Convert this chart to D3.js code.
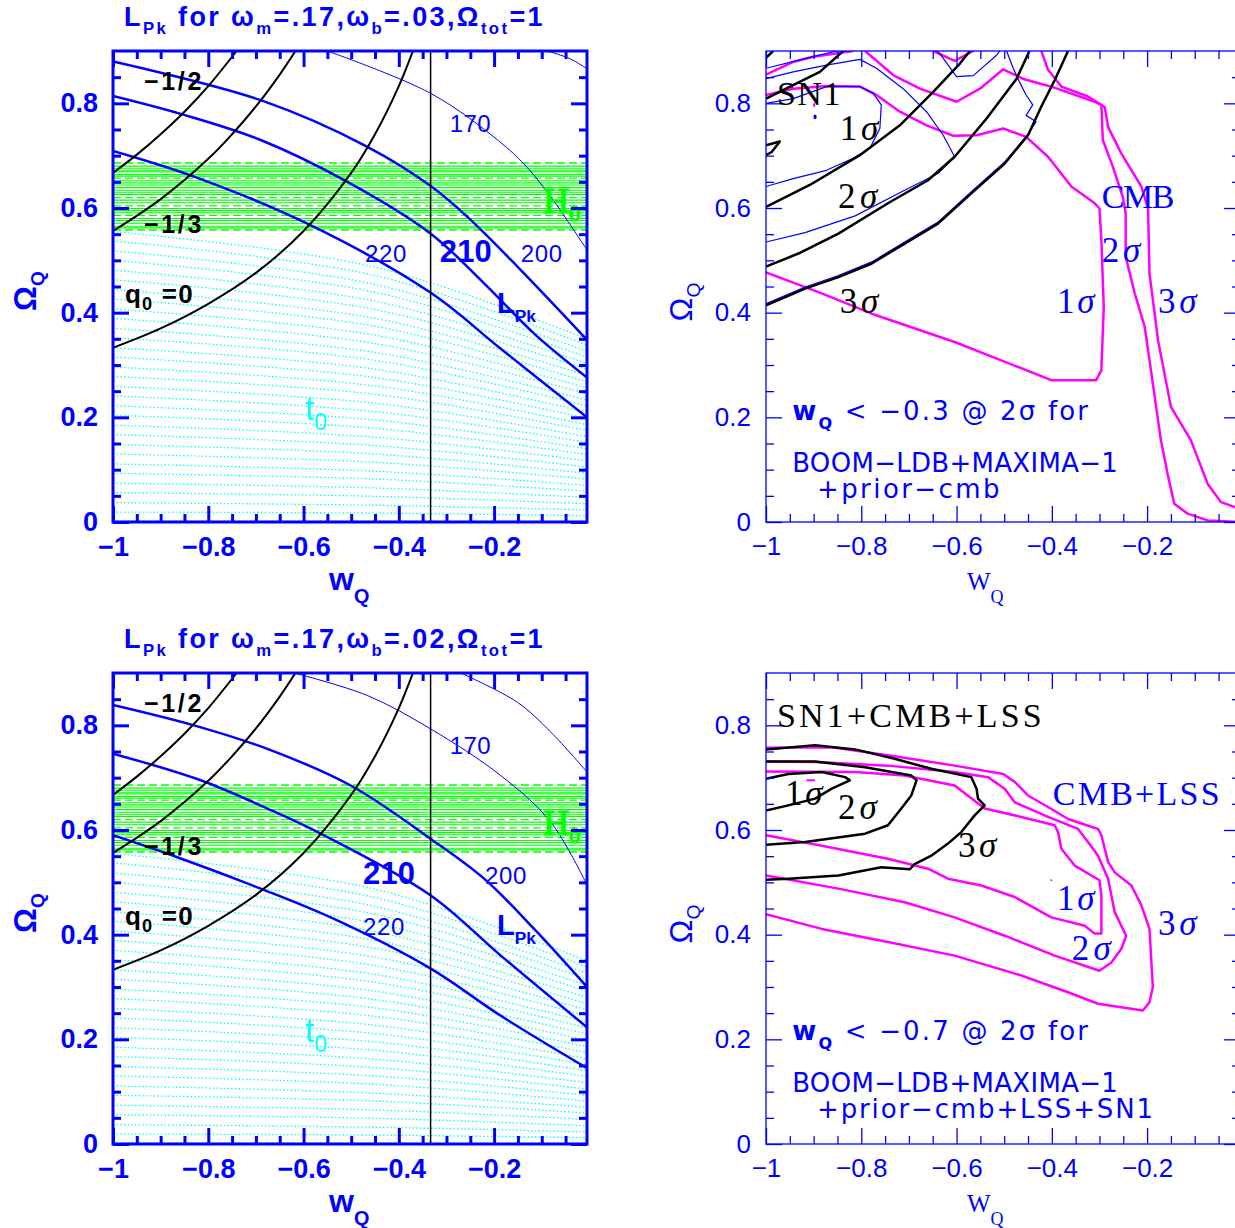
<!DOCTYPE html>
<html>
<head>
<meta charset="utf-8">
<script src="https://cdn.jsdelivr.net/npm/d3@7"></script>
<style>
  body { margin: 0; background: #fff; }
  svg { display: block; }
</style>
</head>
<body>
<svg id="fig" width="1235" height="1228"></svg>
<script>
// ---------- axes ----------
const wTicks = [-1, -0.8, -0.6, -0.4, -0.2];
const wMinor = [-0.95, -0.9, -0.85, -0.75, -0.7, -0.65, -0.55, -0.5, -0.45, -0.35, -0.3, -0.25, -0.15, -0.1, -0.05];
const omegaTicks = [0, 0.2, 0.4, 0.6, 0.8];
const omegaMinor = [0.05, 0.1, 0.15, 0.25, 0.3, 0.35, 0.45, 0.5, 0.55, 0.65, 0.7, 0.75, 0.85];

// ---------- left panels: q0 lines, H0 band, t0 hatch ----------
const q0Half = [[-1, 0.667], [-0.95, 0.702], [-0.9, 0.741], [-0.85, 0.784], [-0.8, 0.833], [-0.75, 0.889], [-0.74, 0.901]];
const q0Third = [[-1, 0.556], [-0.9, 0.617], [-0.8, 0.694], [-0.75, 0.741], [-0.7, 0.794], [-0.65, 0.855], [-0.617, 0.9]];
const q0Zero = [[-1, 0.333], [-0.9, 0.370], [-0.8, 0.417], [-0.7, 0.476], [-0.6, 0.556], [-0.5, 0.667], [-0.45, 0.741], [-0.4, 0.833], [-0.37, 0.901]];
const wVertical = -1 / 3;

const h0Solid = [0.680, 0.676, 0.672, 0.669, 0.664, 0.661, 0.652, 0.648, 0.644, 0.639, 0.634, 0.630, 0.626,
                 0.615, 0.610, 0.599, 0.595, 0.591, 0.580, 0.576, 0.571, 0.565, 0.562];
const h0Dashed = [0.686, 0.657, 0.620, 0.604, 0.586, 0.558];

const t0W = [-1, -0.45, -0.005];
const t0Left = [0.555, 0.537, 0.518, 0.500, 0.481, 0.463, 0.444, 0.426, 0.407, 0.389, 0.370, 0.352, 0.333, 0.315, 0.296, 0.278,
                0.259, 0.241, 0.222, 0.204, 0.185, 0.167, 0.148, 0.130, 0.111, 0.093, 0.074, 0.056, 0.037, 0.019, 0.002];
const t0Mid = [0.487, 0.471, 0.454, 0.439, 0.422, 0.406, 0.389, 0.374, 0.357, 0.341, 0.324, 0.309, 0.292, 0.276, 0.260, 0.244,
               0.227, 0.211, 0.195, 0.179, 0.162, 0.146, 0.130, 0.114, 0.097, 0.082, 0.065, 0.049, 0.032, 0.017, 0.002];
const t0Right = [0.350, 0.338, 0.326, 0.315, 0.303, 0.292, 0.280, 0.268, 0.256, 0.245, 0.233, 0.222, 0.210, 0.198, 0.186, 0.175,
                 0.163, 0.152, 0.140, 0.129, 0.117, 0.105, 0.093, 0.082, 0.070, 0.059, 0.047, 0.035, 0.023, 0.012, 0.001];

// L_Pk contours, omega_b = .03
const lpkB03 = {
  thin2: [[-0.088, 0.9], [-0.04, 0.885], [-0.005, 0.866]],
  l170: [[-0.55, 0.9], [-0.333, 0.819], [-0.19, 0.728], [-0.132, 0.679], [-0.076, 0.615], [-0.019, 0.539], [-0.005, 0.52]],
  l200: [[-1, 0.880], [-0.69, 0.806], [-0.466, 0.717], [-0.333, 0.642], [-0.256, 0.583], [-0.151, 0.488], [-0.005, 0.348]],
  l210: [[-1, 0.814], [-0.851, 0.778], [-0.69, 0.730], [-0.508, 0.650], [-0.333, 0.551], [-0.221, 0.456], [-0.116, 0.360], [-0.005, 0.276]],
  l220: [[-1, 0.709], [-0.83, 0.660], [-0.592, 0.570], [-0.333, 0.438], [-0.186, 0.331], [-0.005, 0.200]]
};
// L_Pk contours, omega_b = .02
const lpkB02 = {
  thin2: [[-0.27, 0.9], [-0.151, 0.844], [-0.081, 0.787], [-0.005, 0.711]],
  l170: [[-0.62, 0.9], [-0.466, 0.857], [-0.333, 0.793], [-0.186, 0.704], [-0.081, 0.615], [-0.005, 0.495]],
  l200: [[-1, 0.839], [-0.83, 0.800], [-0.676, 0.755], [-0.501, 0.685], [-0.333, 0.583], [-0.221, 0.507], [-0.116, 0.411], [-0.005, 0.300]],
  l210: [[-1, 0.746], [-0.816, 0.695], [-0.676, 0.641], [-0.564, 0.593], [-0.333, 0.475], [-0.186, 0.360], [-0.005, 0.223]],
  l220: [[-1, 0.590], [-0.865, 0.548], [-0.69, 0.488], [-0.536, 0.430], [-0.333, 0.335], [-0.186, 0.245], [-0.005, 0.145]]
};

// ---------- top right: SN1 (black, blue) and CMB (magenta) ----------
const sn1Black = [
  [[-1, 0.887], [-0.985, 0.9]],
  [[-1, 0.809], [-0.943, 0.835], [-0.887, 0.860], [-0.838, 0.9]],
  [[-1, 0.720], [-0.971, 0.727], [-0.988, 0.707], [-1, 0.701]],
  [[-1, 0.602], [-0.908, 0.644], [-0.803, 0.701], [-0.719, 0.758], [-0.649, 0.822], [-0.593, 0.876], [-0.572, 0.9]],
  [[-1, 0.488], [-0.932, 0.513], [-0.848, 0.551], [-0.744, 0.609], [-0.660, 0.653], [-0.604, 0.698], [-0.537, 0.771], [-0.474, 0.847], [-0.447, 0.9]],
  [[-1, 0.414], [-0.918, 0.446], [-0.848, 0.468], [-0.778, 0.494], [-0.709, 0.532], [-0.639, 0.570], [-0.569, 0.628],
   [-0.499, 0.685], [-0.450, 0.739], [-0.422, 0.794], [-0.394, 0.844], [-0.366, 0.9]]
];
const sn1Blue = [
  [[-1, 0.867], [-0.929, 0.883], [-0.852, 0.9]],
  [[-1, 0.800], [-0.943, 0.809], [-0.873, 0.832], [-0.803, 0.832], [-0.775, 0.819], [-0.758, 0.797], [-0.761, 0.752],
   [-0.782, 0.714], [-0.817, 0.695], [-0.873, 0.672], [-0.943, 0.656], [-1, 0.641]],
  [[-1, 0.847], [-0.943, 0.860], [-0.873, 0.873], [-0.803, 0.884], [-0.768, 0.867], [-0.712, 0.828], [-0.663, 0.784],
   [-0.628, 0.739], [-0.604, 0.698], [-0.639, 0.666], [-0.709, 0.634], [-0.813, 0.585], [-0.918, 0.553], [-1, 0.535]],
  [[-0.642, 0.9], [-0.635, 0.895], [-0.600, 0.851], [-0.565, 0.853], [-0.516, 0.892], [-0.509, 0.9]],
  [[-0.495, 0.9], [-0.481, 0.867], [-0.468, 0.841], [-0.454, 0.816], [-0.440, 0.797], [-0.454, 0.777], [-0.433, 0.765],
   [-0.450, 0.741], [-0.499, 0.688], [-0.569, 0.631], [-0.639, 0.573], [-0.709, 0.535], [-0.778, 0.497], [-0.848, 0.471],
   [-0.918, 0.449], [-1, 0.417]]
];
const cmbMagenta = [
  [[-1, 0.816], [-0.943, 0.828], [-0.873, 0.833], [-0.803, 0.832], [-0.768, 0.816], [-0.719, 0.784], [-0.663, 0.758],
   [-0.607, 0.738], [-0.558, 0.739], [-0.502, 0.752], [-0.454, 0.736], [-0.408, 0.698], [-0.359, 0.641], [-0.310, 0.609],
   [-0.300, 0.599], [-0.296, 0.539], [-0.291, 0.411], [-0.296, 0.290], [-0.307, 0.271], [-0.401, 0.271], [-0.604, 0.344],
   [-0.778, 0.398], [-0.883, 0.437], [-1, 0.477]],
  [[-1, 0.855], [-0.943, 0.879], [-0.901, 0.889], [-0.817, 0.9]],
  [[-0.792, 0.9], [-0.733, 0.854], [-0.677, 0.828], [-0.600, 0.803], [-0.551, 0.828], [-0.502, 0.865], [-0.461, 0.847],
   [-0.426, 0.838], [-0.401, 0.832], [-0.310, 0.803], [-0.296, 0.797], [-0.293, 0.730], [-0.272, 0.679], [-0.251, 0.621],
   [-0.245, 0.590], [-0.245, 0.507], [-0.226, 0.437], [-0.205, 0.373], [-0.191, 0.284], [-0.171, 0.156], [-0.157, 0.092],
   [-0.143, 0.035], [-0.115, 0.016], [-0.073, 0.003], [-0.005, 0.0]],
  [[-0.649, 0.9], [-0.604, 0.881], [-0.565, 0.9]],
  [[-0.422, 0.9], [-0.408, 0.864], [-0.380, 0.832], [-0.324, 0.813], [-0.289, 0.793], [-0.282, 0.755], [-0.254, 0.704],
   [-0.212, 0.641], [-0.198, 0.599], [-0.195, 0.475], [-0.177, 0.347], [-0.150, 0.220], [-0.108, 0.156], [-0.073, 0.073],
   [-0.045, 0.038], [-0.017, 0.029], [-0.005, 0.025]]
];
const sn1BestFit = [-0.897, 0.774];
const cmbBestFit = [-0.899, 0.797];

// ---------- bottom right: SN1+CMB+LSS (black) and CMB+LSS (magenta) ----------
const allBlack = [
  [[-1, 0.698], [-0.953, 0.707], [-0.883, 0.711], [-0.834, 0.701], [-0.824, 0.695], [-0.862, 0.679], [-0.897, 0.660],
   [-0.953, 0.647], [-1, 0.637]],
  [[-1, 0.731], [-0.897, 0.731], [-0.792, 0.720], [-0.695, 0.704], [-0.684, 0.695], [-0.695, 0.666], [-0.716, 0.641],
   [-0.744, 0.609], [-0.792, 0.593], [-0.918, 0.577], [-1, 0.572]],
  [[-1, 0.754], [-0.897, 0.762], [-0.813, 0.754], [-0.730, 0.736], [-0.653, 0.717], [-0.569, 0.701], [-0.558, 0.679],
   [-0.555, 0.660], [-0.541, 0.647], [-0.562, 0.628], [-0.590, 0.596], [-0.618, 0.574], [-0.653, 0.551], [-0.688, 0.535],
   [-0.698, 0.525], [-0.758, 0.529], [-0.848, 0.513], [-0.953, 0.507], [-1, 0.505]]
];
const lssMagenta = [
  [[-1, 0.712], [-0.813, 0.711], [-0.709, 0.704], [-0.604, 0.685], [-0.541, 0.641], [-0.464, 0.625], [-0.394, 0.609],
   [-0.387, 0.596], [-0.380, 0.564], [-0.352, 0.532], [-0.300, 0.504], [-0.296, 0.475], [-0.296, 0.402], [-0.310, 0.402],
   [-0.331, 0.417], [-0.401, 0.433], [-0.478, 0.472], [-0.548, 0.494], [-0.618, 0.507], [-0.660, 0.526], [-0.744, 0.545],
   [-0.883, 0.570], [-1, 0.590]],
  [[-1, 0.731], [-0.897, 0.730], [-0.744, 0.723], [-0.604, 0.711], [-0.534, 0.701], [-0.499, 0.679], [-0.478, 0.653],
   [-0.408, 0.625], [-0.345, 0.602], [-0.324, 0.577], [-0.303, 0.551], [-0.282, 0.507], [-0.268, 0.443], [-0.244, 0.398],
   [-0.254, 0.373], [-0.275, 0.347], [-0.300, 0.331], [-0.394, 0.360], [-0.499, 0.398], [-0.604, 0.433], [-0.709, 0.462],
   [-0.848, 0.488], [-1, 0.513]],
  [[-1, 0.757], [-0.862, 0.758], [-0.744, 0.743], [-0.604, 0.723], [-0.502, 0.707], [-0.478, 0.692], [-0.450, 0.666],
   [-0.408, 0.644], [-0.366, 0.621], [-0.303, 0.602], [-0.296, 0.590], [-0.282, 0.539], [-0.268, 0.519], [-0.233, 0.494],
   [-0.212, 0.456], [-0.195, 0.411], [-0.191, 0.347], [-0.188, 0.300], [-0.195, 0.271], [-0.209, 0.255], [-0.303, 0.268],
   [-0.366, 0.290], [-0.464, 0.322], [-0.604, 0.360], [-0.744, 0.386], [-0.883, 0.411], [-1, 0.439]]
];
const lssDash = [[-0.915, 0.695], [-0.897, 0.695]];
const lssDot = [-0.401, 0.504];

// ---------- drawing ----------
const BLUE = "#0000ff", GREEN = "#00ff00", CYAN = "#00ffff", MAGENTA = "#ff00ff";
const SANS = "'Liberation Sans', Arial, sans-serif";
const SERIF = "'Liberation Serif', 'Times New Roman', serif";
const DJ = "'DejaVu Sans', sans-serif";
const PW = 474, PH = 471;
const svg = d3.select("#fig");
const defs = svg.append("defs");
const tickText = d => (d === 0 ? "0" : String(d).replace("-", "−"));

function makePanel(id, x0, y0) {
  const x = d3.scaleLinear().domain([-1, -0.005]).range([x0, x0 + PW]);
  const y = d3.scaleLinear().domain([0, 0.9]).range([y0 + PH, y0]);
  defs.append("clipPath").attr("id", id).append("rect")
    .attr("x", x0).attr("y", y0).attr("width", PW).attr("height", PH);
  const g = svg.append("g").attr("clip-path", `url(#${id})`);
  return {x, y, x0, y0, g};
}

function path(p, pts, color, width, curve, dash) {
  const line = d3.line().x(d => p.x(d[0])).y(d => p.y(d[1])).curve(curve || d3.curveLinear);
  const el = p.g.append("path").attr("d", line(pts)).attr("fill", "none")
    .attr("stroke", color).attr("stroke-width", width).attr("stroke-linejoin", "round");
  if (dash) el.attr("stroke-dasharray", dash);
  return el;
}

// text with subscripts; parts: strings, [text] for subscript, {t, italic, bold} for styled runs
function rich(px, py, parts, o) {
  const t = svg.append("text").attr("x", px).attr("y", py)
    .attr("font-family", o.font).attr("font-size", o.size).attr("font-weight", o.weight || "normal")
    .attr("fill", o.color).attr("text-anchor", o.anchor || "start");
  if (o.rotate) t.attr("transform", `rotate(${o.rotate},${px},${py})`);
  if (o.outline) t.attr("stroke", o.color).attr("stroke-width", o.outline);
  let shift = 0;
  parts.forEach(part => {
    const sub = Array.isArray(part);
    const obj = typeof part === "object" && !sub;
    const s = sub ? part[0] : obj ? part.t : part;
    const target = sub ? o.size * (o.subDy || 0.35) : 0;
    const ts = t.append("tspan").attr("font-size", sub ? o.size * (o.subScale || 0.62) : o.size)
      .attr("dy", target - shift).text(s);
    if (obj && part.italic) ts.attr("font-style", "italic");
    if (sub && part[1] === "bold" || obj && part.bold) ts.attr("font-weight", "bold");
    shift = target;
  });
  if (o.width) {
    const n = t.text().length;
    const L = t.node().getComputedTextLength();
    t.attr("letter-spacing", (o.width - L) / n);
  }
  return t;
}

function axes(p, st) {
  const g = svg.append("g");
  const bottom = p.y0 + PH, right = p.x0 + PW;
  const mk = (axisFn, scale, vals, size, tx, ty, labels) => {
    const a = axisFn(scale).tickValues(vals).tickSizeInner(-size).tickSizeOuter(0).tickPadding(st.pad)
      .tickFormat(labels ? tickText : "");
    const ag = g.append("g").attr("transform", `translate(${tx},${ty})`).call(a);
    ag.select(".domain").remove();
    ag.selectAll("line").attr("stroke", BLUE).attr("stroke-width", st.lw);
    ag.selectAll("text").attr("fill", BLUE).attr("font-family", st.font)
      .attr("font-size", st.size).attr("font-weight", st.weight);
  };
  mk(d3.axisBottom, p.x, wTicks, st.major, 0, bottom, true);
  mk(d3.axisBottom, p.x, wMinor, st.minor, 0, bottom, false);
  mk(d3.axisTop, p.x, wTicks, st.major, 0, p.y0, false);
  mk(d3.axisTop, p.x, wMinor, st.minor, 0, p.y0, false);
  mk(d3.axisLeft, p.y, omegaTicks, st.major, p.x0, 0, true);
  mk(d3.axisLeft, p.y, omegaMinor, st.minor, p.x0, 0, false);
  mk(d3.axisRight, p.y, omegaTicks, st.major, right, 0, false);
  mk(d3.axisRight, p.y, omegaMinor, st.minor, right, 0, false);
  g.append("rect").attr("x", p.x0).attr("y", p.y0).attr("width", PW).attr("height", PH)
    .attr("fill", "none").attr("stroke", BLUE).attr("stroke-width", st.lw);
}

const leftStyle = {lw: 3, major: 16, minor: 8, pad: 15, font: SANS, size: 27, weight: "bold"};
const rightStyle = {lw: 1.3, major: 16, minor: 8, pad: 15, font: SANS, size: 26, weight: "normal"};

function lpkPanel(id, y0, lpk, ob, labels) {
  const p = makePanel(id, 113, y0);
  const smooth = d3.curveCatmullRom;
  // t0 hatch
  t0Left.forEach((v, i) => {
    path(p, [[t0W[0], v], [t0W[1], t0Mid[i]], [t0W[2], t0Right[i]]], CYAN, 1.3, smooth, "1.5,2.2");
  });
  // H0 band
  h0Solid.forEach(v => path(p, [[-1, v], [-0.005, v]], GREEN, 1.1));
  h0Dashed.forEach(v => path(p, [[-1, v], [-0.005, v]], GREEN, 1.3, null, "8,4"));
  // L_Pk contours
  path(p, lpk.thin2, BLUE, 1, smooth);
  path(p, lpk.l170, BLUE, 1, smooth);
  path(p, lpk.l200, BLUE, 2.5, smooth);
  path(p, lpk.l210, BLUE, 2.5, smooth);
  path(p, lpk.l220, BLUE, 2.5, smooth);
  // q0 lines
  [q0Half, q0Third, q0Zero].forEach(d => path(p, d, "#000", 2, smooth));
  path(p, [[wVertical, 0], [wVertical, 0.9]], "#000", 1.5);

  const T = w => p.x(w);
  const U = o => p.y(o);
  rich(T(-0.935), U(0.826), ["−1/2"], {font: SANS, size: 25, weight: "bold", color: "#000", width: 60});
  rich(T(-0.935), U(0.552), ["−1/3"], {font: SANS, size: 25, weight: "bold", color: "#000", width: 60});
  rich(T(-0.975), U(0.418), ["q", ["0"], " =0"], {font: SANS, size: 26, weight: "bold", color: "#000", subScale: 0.7, subDy: 0.25, width: 69});
  rich(T(-0.293), U(0.745), ["170"], {font: SANS, size: 24, color: BLUE, width: 41});
  labels.forEach(l => rich(T(l.w), U(l.o), [l.text], {font: SANS, size: l.big ? 31 : 24, weight: l.big ? "bold" : "normal", color: BLUE, width: l.width}));
  rich(T(-0.194), U(0.399), ["L", ["Pk"]], {font: SANS, size: 29, weight: "bold", color: BLUE, subScale: 0.6, subDy: 0.3});
  rich(T(-0.097), U(0.590), ["H", ["0"]], {font: SERIF, size: 36, color: GREEN, subScale: 0.62, subDy: 0.22, outline: 1.2});
  rich(T(-0.597), U(0.195), ["t", ["0"]], {font: SANS, size: 33, color: CYAN, subScale: 0.7, subDy: 0.3});

  axes(p, leftStyle);
  rich(124, y0 - 25, ["L", ["Pk"], " for ω", ["m"], "=.17,ω", ["b"], "=" + ob + ",Ω", ["tot"], "=1"],
    {font: SANS, size: 27, weight: "bold", color: BLUE, subScale: 0.62, subDy: 0.28, width: 421});
  rich(329, y0 + 539, ["w", ["Q"]], {font: SANS, size: 32, weight: "bold", color: BLUE, subScale: 0.62, subDy: 0.4});
  rich(36, y0 + 240, ["Ω", ["Q"]], {font: SANS, size: 31, weight: "bold", color: BLUE, subScale: 0.62, subDy: 0.25, rotate: -90, anchor: "middle"});
}

lpkPanel("c1", 51, lpkB03, ".03", [
  {text: "220", w: -0.471, o: 0.497, width: 42},
  {text: "210", w: -0.314, o: 0.497, width: 52, big: true},
  {text: "200", w: -0.144, o: 0.497, width: 42}
]);
lpkPanel("c3", 673, lpkB02, ".02", [
  {text: "210", w: -0.475, o: 0.497, width: 52, big: true},
  {text: "200", w: -0.219, o: 0.497, width: 42},
  {text: "220", w: -0.475, o: 0.399, width: 42}
]);

function rightFrameLabels(p) {
  axes(p, rightStyle);
  rich(967, p.y0 + 539, ["W", ["Q"]], {font: SERIF, size: 25, color: BLUE, subScale: 0.72, subDy: 0.52});
  rich(692, p.y0 + 251, ["Ω", ["Q"]], {font: SANS, size: 32, color: BLUE, subScale: 0.6, subDy: 0.25, rotate: -90, anchor: "middle"});
}
const sig = (x, y, d, color, width) => rich(x, y, [String(d), {t: "σ", italic: true}], {font: SERIF, size: 35, color, width});
const limitLine = w => [{t: "w", bold: true}, ["Q", "bold"], ` < −${w} @ 2σ for`];

// top right
{
  const p = makePanel("c2", 766, 51);
  cmbMagenta.forEach(d => path(p, d, MAGENTA, 2.5));
  sn1Blue.forEach(d => path(p, d, BLUE, 1.2));
  sn1Black.forEach(d => path(p, d, "#000", 2.5));
  p.g.append("ellipse").attr("cx", p.x(sn1BestFit[0])).attr("cy", p.y(sn1BestFit[1])).attr("rx", 1.6).attr("ry", 2.4).attr("fill", BLUE);
  p.g.append("ellipse").attr("cx", p.x(cmbBestFit[0])).attr("cy", p.y(cmbBestFit[1])).attr("rx", 1.2).attr("ry", 2).attr("fill", MAGENTA);
  rightFrameLabels(p);
  const X = w => p.x(w), Y = o => p.y(o);
  rich(X(-0.977), Y(0.797), ["SN1"], {font: SERIF, size: 34, color: "#000", width: 65});
  sig(X(-0.845), Y(0.730), 1, "#000", 42);
  sig(X(-0.849), Y(0.600), 2, "#000", 44);
  sig(X(-0.845), Y(0.399), 3, "#000", 42);
  rich(X(-0.295), Y(0.600), ["CMB"], {font: SERIF, size: 34, color: BLUE, width: 71});
  sig(X(-0.295), Y(0.497), 2, BLUE, 42);
  sig(X(-0.389), Y(0.399), 1, BLUE, 40);
  sig(X(-0.177), Y(0.399), 3, BLUE, 42);
  rich(X(-0.945), Y(0.195), limitLine("0.3"), {font: DJ, size: 26, color: BLUE, subScale: 0.62, subDy: 0.35, width: 298});
  rich(X(-0.945), Y(0.096), ["BOOM−LDB+MAXIMA−1"], {font: DJ, size: 26, color: BLUE, width: 326});
  rich(X(-0.893), Y(0.046), ["+prior−cmb"], {font: DJ, size: 26, color: BLUE, width: 185});
}

// bottom right
{
  const p = makePanel("c4", 766, 673);
  lssMagenta.forEach(d => path(p, d, MAGENTA, 2.5));
  allBlack.forEach(d => path(p, d, "#000", 2.5));
  path(p, lssDash, MAGENTA, 2);
  p.g.append("circle").attr("cx", p.x(lssDot[0])).attr("cy", p.y(lssDot[1])).attr("r", 1).attr("fill", MAGENTA);
  rightFrameLabels(p);
  const X = w => p.x(w), Y = o => p.y(o);
  rich(X(-0.977), Y(0.797), ["SN1+CMB+LSS"], {font: SERIF, size: 34, color: "#000", width: 268});
  rich(X(-0.398), Y(0.648), ["CMB+LSS"], {font: SERIF, size: 34, color: BLUE, width: 169});
  sig(X(-0.960), Y(0.648), 1, "#000", 40);
  sig(X(-0.849), Y(0.621), 2, "#000", 43);
  sig(X(-0.597), Y(0.548), 3, "#000", 42);
  sig(X(-0.389), Y(0.447), 1, BLUE, 40);
  sig(X(-0.358), Y(0.352), 2, BLUE, 43);
  sig(X(-0.177), Y(0.399), 3, BLUE, 42);
  rich(X(-0.945), Y(0.199), limitLine("0.7"), {font: DJ, size: 26, color: BLUE, subScale: 0.62, subDy: 0.35, width: 298});
  rich(X(-0.945), Y(0.099), ["BOOM−LDB+MAXIMA−1"], {font: DJ, size: 26, color: BLUE, width: 326});
  rich(X(-0.893), Y(0.050), ["+prior−cmb+LSS+SN1"], {font: DJ, size: 26, color: BLUE, width: 338});
}
</script>
</body>
</html>
